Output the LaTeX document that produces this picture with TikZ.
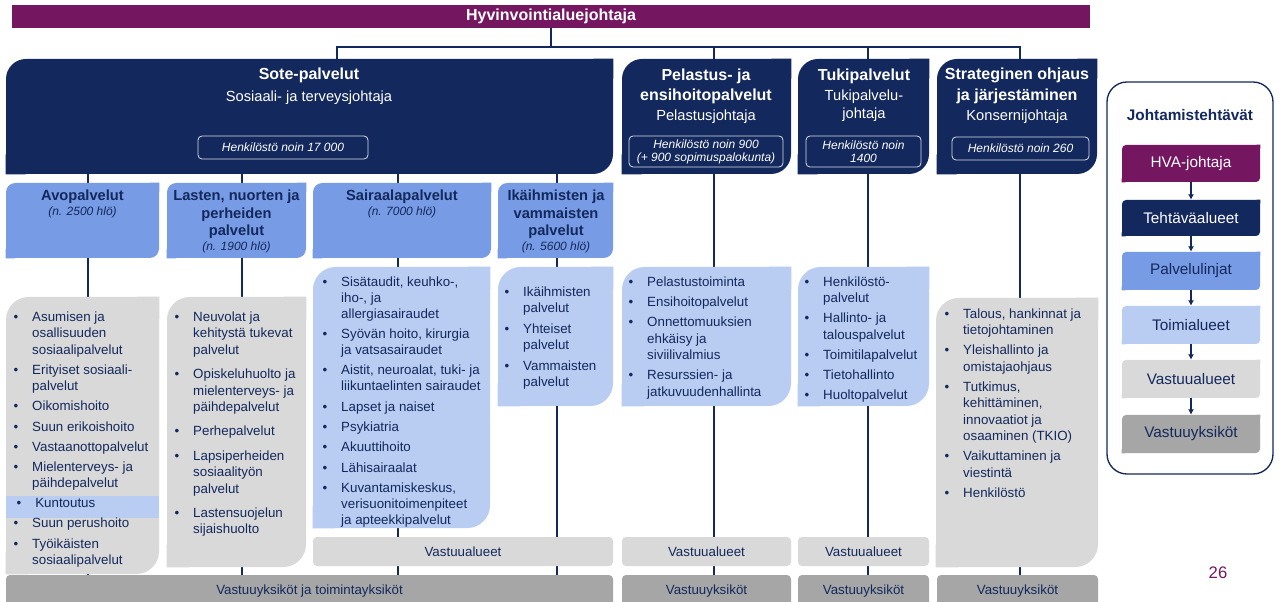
\documentclass[tikz,border=0pt]{standalone}
\usepackage{fontspec}
\setmainfont{Liberation Sans}
\usetikzlibrary{arrows.meta,positioning,fit,backgrounds}

\definecolor{violetti}{RGB}{116,22,96}
\definecolor{tumma}{RGB}{19,40,92}
\definecolor{keski}{RGB}{119,155,228}
\definecolor{vaalea}{RGB}{185,204,242}
\definecolor{harmaa}{RGB}{217,217,217}
\definecolor{tummaharmaa}{RGB}{166,166,166}

\newcommand{\bl}{\makebox[14pt][l]{\textbullet}}
\newcommand{\sis}{\hspace*{14pt}}

\begin{document}
\begin{tikzpicture}[x=0.75pt, y=-0.75pt,
    kulma/.style 2 args={fill=#1, rounded corners=#2, inner sep=0pt,
      append after command={\pgfextra{\fill[#1, sharp corners]
        (\tikzlastnode.south west) rectangle ++(#2,#2)
        (\tikzlastnode.north east) rectangle ++(-#2,-#2);}}},
    otsikko/.style={inner sep=0pt, align=center, text=white, font=\bfseries\fontsize{12}{15.5}\selectfont},
    johtaja/.style={inner sep=0pt, align=center, text=white, font=\fontsize{11}{13.5}\selectfont},
    pilleri/.style={inner sep=0pt, draw=white!85!tumma, line width=0.6pt, rounded corners=3pt},
    pillteksti/.style={inner sep=0pt, align=center, text=white, font=\itshape\fontsize{9}{9.8}\selectfont},
    linja/.style={inner sep=0pt, align=center, text=tumma, font=\bfseries\fontsize{11}{13.1}\selectfont},
    hlo/.style={inner sep=0pt, text=tumma, font=\itshape\fontsize{9}{11}\selectfont},
    lista/.style={anchor=north west, inner sep=0pt, align=left, text=tumma, font=\fontsize{10}{12.3}\selectfont},
    alue/.style={inner sep=0pt, fill=harmaa, rounded corners=3pt},
    yksikko/.style={inner sep=0pt, fill=tummaharmaa, rounded corners=3pt},
    aluet/.style={inner sep=0pt, text=tumma, font=\fontsize{10}{12}\selectfont},
    taso/.style={kulma={#1}{3pt}},
    tasot/.style={inner sep=0pt, text=tumma, font=\fontsize{11.5}{14}\selectfont},
    yhteys/.style={draw=tumma, line width=1.8pt},
    nuoli/.style={draw=tumma, line width=0.8pt, -{Latex[length=4pt, width=4.5pt]}}]

\useasboundingbox (0,0) rectangle (1279,602);

% johto
\node[fill=violetti, inner sep=0pt, fit={(12,5) (1090,28)}] (bar) {};
\node[inner sep=0pt, text=white, font=\bfseries\fontsize{12}{14}\selectfont] (bart) at (bar) {Hyvinvointialuejohtaja};
\coordinate (haara) at (551,47);
\coordinate (vasen) at (337,47);
\coordinate (h2) at (714,47);
\coordinate (h3) at (868,47);
\coordinate (oikea) at (1020,47);

% tehtavaalueet
\node[kulma={tumma}{15pt}, fit={(6,59) (613,174)}] (sote) {};
\node[kulma={tumma}{15pt}, fit={(622,59) (791,174)}] (pel) {};
\node[kulma={tumma}{15pt}, fit={(798,59) (929,174)}] (tuki) {};
\node[kulma={tumma}{15pt}, fit={(937,59) (1097,174)}] (strat) {};

\node[otsikko] (sotet) at (309,75) {Sote-palvelut};
\node[johtaja] (sotej) at (309,98) {Sosiaali- ja terveysjohtaja};
\node[pilleri, fit={(198,136) (368,159)}] (sotep) {};
\node[pillteksti] (sotept) at (sotep) {Henkilöstö noin 17 000};

\node[otsikko] (pelt) at (706,86.5) {Pelastus- ja\\ensihoitopalvelut};
\node[johtaja] (pelj) at (706,117) {Pelastusjohtaja};
\node[pilleri, fit={(629,136) (783,167)}] (pelp) {};
\node[pillteksti] (pelpt) at (pelp) {Henkilöstö noin 900\\(+ 900 sopimuspalokunta)};

\node[otsikko] (tukit) at (864,76) {Tukipalvelut};
\node[johtaja] (tukij) at (864,106) {Tukipalvelu-\\johtaja};
\node[pilleri, fit={(806,136) (921,167)}] (tukip) {};
\node[pillteksti] (tukipt) at (tukip) {Henkilöstö noin\\1400};

\node[otsikko] (stratt) at (1017,86) {Strateginen ohjaus\\ja järjestäminen};
\node[johtaja] (stratj) at (1017,117) {Konsernijohtaja};
\node[pilleri, fit={(952,137) (1089,160)}] (stratp) {};
\node[pillteksti] (stratpt) at (stratp) {Henkilöstö noin 260};

% palvelulinjat
\node[kulma={keski}{7pt}, fit={(6,183) (159,258)}] (avo) {};
\node[kulma={keski}{7pt}, fit={(167,183) (306,258)}] (lasten) {};
\node[kulma={keski}{7pt}, fit={(313,183) (491,258)}] (sair) {};
\node[kulma={keski}{7pt}, fit={(498,183) (613,258)}] (ika) {};

\node[linja] (avot) at (82.5,197) {Avopalvelut};
\node[hlo, below=2pt of avot] (avoh) {(n. 2500 hlö)};
\node[linja] (lastent) at (236.5,214.5) {Lasten, nuorten ja\\perheiden\\palvelut};
\node[hlo, below=2pt of lastent] (lastenh) {(n. 1900 hlö)};
\node[linja] (sairt) at (402,197) {Sairaalapalvelut};
\node[hlo, below=2pt of sairt] (sairh) {(n. 7000 hlö)};
\node[linja] (ikat) at (556,214.5) {Ikäihmisten ja\\vammaisten\\palvelut};
\node[hlo, below=2pt of ikat] (ikah) {(n. 5600 hlö)};

% toimialueet
\node[kulma={harmaa}{17pt}, fit={(6,297) (159,574)}] (avolista) {};
\node[fill=vaalea, inner sep=0pt, fit={(6,496) (159,518)}] (kunto) {};
\node[kulma={harmaa}{17pt}, fit={(167,297) (306,567)}] (lastlista) {};
\node[kulma={vaalea}{17pt}, fit={(313,267) (490,528)}] (sairlista) {};
\node[kulma={vaalea}{17pt}, fit={(498,267) (613,406)}] (ikalista) {};
\node[kulma={vaalea}{17pt}, fit={(622,267) (791,406)}] (pellista) {};
\node[kulma={vaalea}{17pt}, fit={(798,267) (929,406)}] (tukilista) {};
\node[kulma={harmaa}{17pt}, fit={(936,298) (1098,567)}] (stratlista) {};

\node[lista] (avoteksti) at (13.3,311.5) {\bl Asumisen ja\\\sis osallisuuden\\\sis sosiaalipalvelut\\[2.8pt]%
\bl Erityiset sosiaali-\\\sis palvelut\\[2.8pt]%
\bl Oikomishoito\\[2.8pt]%
\bl Suun erikoishoito\\[2.8pt]%
\bl Vastaanottopalvelut\\[2.8pt]%
\bl Mielenterveys- ja\\\sis päihdepalvelut\\[2.8pt]%
\hspace*{2.3pt}\bl Kuntoutus\\[2.8pt]%
\bl Suun perushoito\\[2.8pt]%
\bl Työikäisten\\\sis sosiaalipalvelut};

\node[lista] (lastteksti) at (174.3,311.5) {\bl Neuvolat ja\\\sis kehitystä tukevat\\\sis palvelut\\[6pt]%
\bl Opiskeluhuolto ja\\\sis mielenterveys- ja\\\sis päihdepalvelut\\[6pt]%
\bl Perhepalvelut\\[6pt]%
\bl Lapsiperheiden\\\sis sosiaalityön\\\sis palvelut\\[6pt]%
\bl Lastensuojelun\\\sis sijaishuolto};

\node[lista, font=\fontsize{10}{12}\selectfont] (sairteksti) at (322.3,276.5) {\bl Sisätaudit, keuhko-,\\\sis iho-, ja\\\sis allergiasairaudet\\[3.2pt]%
\bl Syövän hoito, kirurgia\\\sis ja vatsasairaudet\\[3.2pt]%
\bl Aistit, neuroalat, tuki- ja\\\sis liikuntaelinten sairaudet\\[3.2pt]%
\bl Lapset ja naiset\\[3.2pt]%
\bl Psykiatria\\[3.2pt]%
\bl Akuuttihoito\\[3.2pt]%
\bl Lähisairaalat\\[3.2pt]%
\bl Kuvantamiskeskus,\\\sis verisuonitoimenpiteet\\\sis ja apteekkipalvelut};

\node[lista] (ikateksti) at (504.3,286.5) {\bl Ikäihmisten\\\sis palvelut\\[3.2pt]%
\bl Yhteiset\\\sis palvelut\\[3.2pt]%
\bl Vammaisten\\\sis palvelut};

\node[lista] (pelteksti) at (628.3,276.5) {\bl Pelastustoiminta\\[2.8pt]%
\bl Ensihoitopalvelut\\[2.8pt]%
\bl Onnettomuuksien\\\sis ehkäisy ja\\\sis siviilivalmius\\[2.8pt]%
\bl Resurssien- ja\\\sis jatkuvuudenhallinta};

\node[lista] (tukiteksti) at (804.3,276.5) {\bl Henkilöstö-\\\sis palvelut\\[2.8pt]%
\bl Hallinto- ja\\\sis talouspalvelut\\[2.8pt]%
\bl Toimitilapalvelut\\[2.8pt]%
\bl Tietohallinto\\[2.8pt]%
\bl Huoltopalvelut};

\node[lista] (stratteksti) at (944.3,308.5) {\bl Talous, hankinnat ja\\\sis tietojohtaminen\\[2.8pt]%
\bl Yleishallinto ja\\\sis omistajaohjaus\\[2.8pt]%
\bl Tutkimus,\\\sis kehittäminen,\\\sis innovaatiot ja\\\sis osaaminen (TKIO)\\[2.8pt]%
\bl Vaikuttaminen ja\\\sis viestintä\\[2.8pt]%
\bl Henkilöstö};

% vastuualueet ja -yksikot
\node[alue, fit={(313,537) (613,566)}] (sotealue) {};
\node[aluet] (sotealuet) at (sotealue) {Vastuualueet};
\node[alue, fit={(622,537) (791,566)}] (pelalue) {};
\node[aluet] (pelaluet) at (pelalue) {Vastuualueet};
\node[alue, fit={(798,537) (929,566)}] (tukialue) {};
\node[aluet] (tukialuet) at (tukialue) {Vastuualueet};

\node[yksikko, fit={(6,575) (613,607)}] (soteyks) {};
\node[aluet] (soteykst) at (soteyks) {Vastuuyksiköt ja toimintayksiköt};
\node[yksikko, fit={(622,575) (791,607)}] (pelyks) {};
\node[aluet] (pelykst) at (pelyks) {Vastuuyksiköt};
\node[yksikko, fit={(798,575) (929,607)}] (tukiyks) {};
\node[aluet] (tukiykst) at (tukiyks) {Vastuuyksiköt};
\node[yksikko, fit={(937,575) (1098,607)}] (stratyks) {};
\node[aluet] (stratykst) at (stratyks) {Vastuuyksiköt};

% johtamistehtavat
\node[draw=tumma, line width=1pt, rounded corners=15pt, inner sep=0pt, fit={(1107,82) (1273,474)}] (legend) {};
\node[text=tumma, font=\bfseries\fontsize{11.5}{14}\selectfont] (lt) at (1190,115) {Johtamistehtävät};
\node[taso=violetti, fit={(1122,145) (1260,182)}] (l1) {};
\node[taso=tumma, fit={(1122,200) (1260,236)}] (l2) {};
\node[taso=keski, fit={(1122,252) (1260,290)}] (l3) {};
\node[taso=vaalea, fit={(1122,306) (1260,344)}] (l4) {};
\node[taso=harmaa, fit={(1122,360) (1260,398)}] (l5) {};
\node[taso=tummaharmaa, fit={(1122,415) (1260,453)}] (l6) {};
\node[tasot, text=white] (l1t) at (l1) {HVA-johtaja};
\node[tasot, text=white] (l2t) at (l2) {Tehtäväalueet};
\node[tasot] (l3t) at (l3) {Palvelulinjat};
\node[tasot] (l4t) at (l4) {Toimialueet};
\node[tasot] (l5t) at (l5) {Vastuualueet};
\node[tasot] (l6t) at (l6) {Vastuuyksiköt};
\foreach \a/\b in {l1/l2, l2/l3, l3/l4, l4/l5, l5/l6}
  \draw[nuoli] (\a) -- (\b);

\node[text=violetti, font=\fontsize{12.5}{15}\selectfont] (sivu) at (1218,573) {26};

% yhteydet taustalla
\begin{scope}[on background layer]
  \fill[white] (0,0) rectangle (1279,602);
  \draw[yhteys] (bar.south -| haara) -- (haara);
  \draw[yhteys] (sote.north -| vasen) -- (vasen) -- (oikea) -- (strat.north -| oikea);
  \draw[yhteys] (h2) -- (pel.north -| h2);
  \draw[yhteys] (h3) -- (tuki.north -| h3);
  \foreach \x in {88,242,398,557}
    \draw[yhteys] (sote.south -| \x,0) -- (soteyks.north -| \x,0);
  \draw[yhteys] (pel.south -| h2) -- (pelyks.north -| h2);
  \draw[yhteys] (tuki.south -| h3) -- (tukiyks.north -| h3);
  \draw[yhteys] (strat.south -| oikea) -- (stratyks.north -| oikea);
\end{scope}
\end{tikzpicture}
\end{document}
